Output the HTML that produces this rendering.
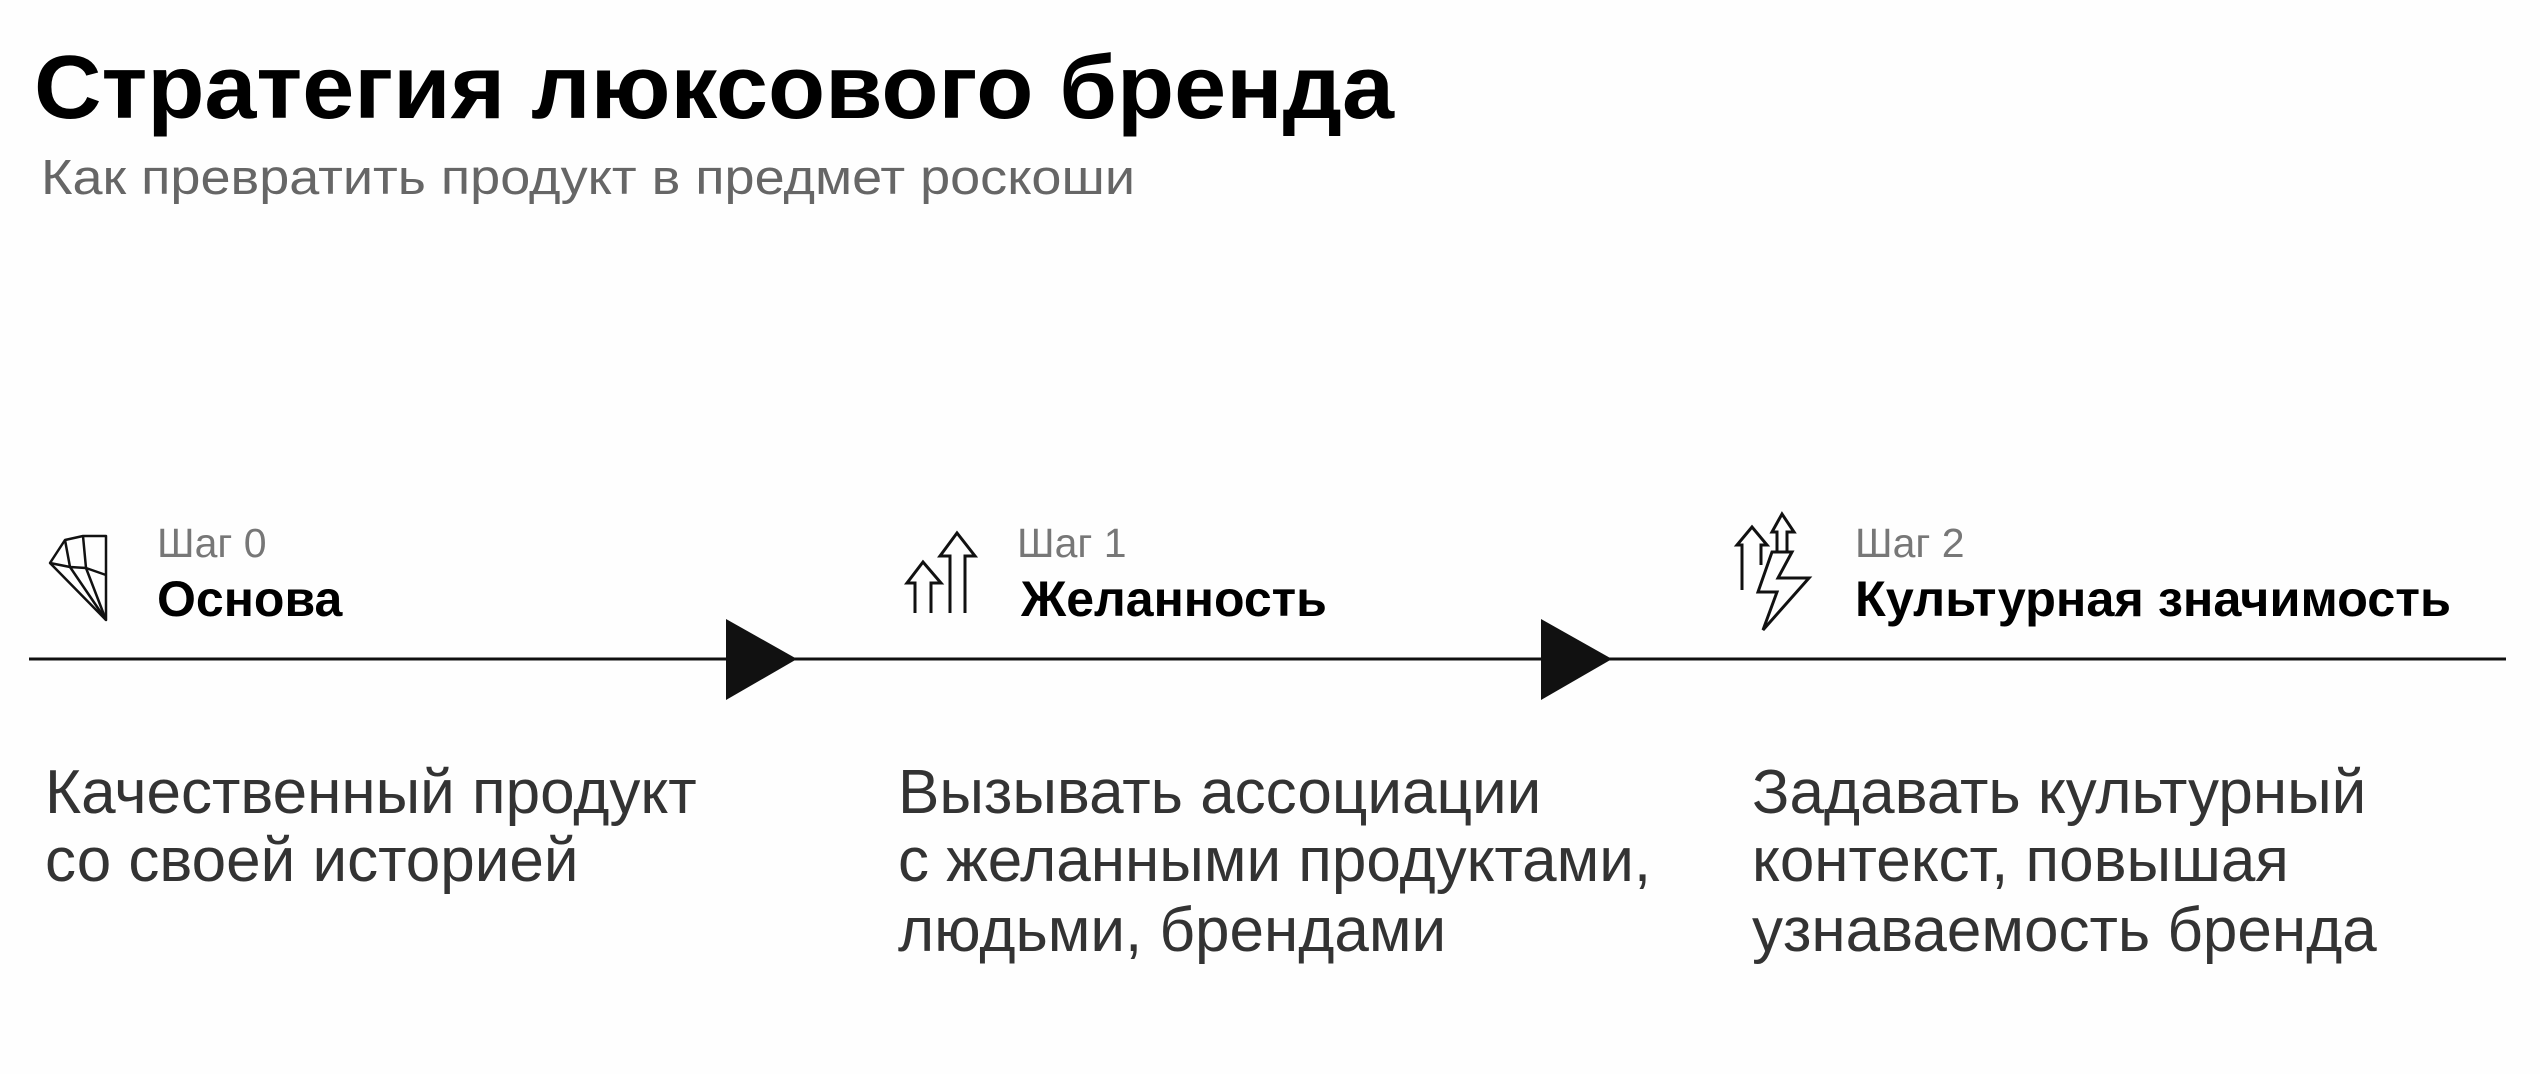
<!DOCTYPE html>
<html><head><meta charset="utf-8"><style>
html,body{margin:0;padding:0;background:#fff;}
svg{display:block;}
text{font-family:"Liberation Sans",sans-serif;}
</style></head><body>
<svg width="2540" height="1074" viewBox="0 0 2540 1074" xmlns="http://www.w3.org/2000/svg">
<rect width="2540" height="1074" fill="#fefefe"/>
<text x="34" y="118" font-size="90" font-weight="bold" fill="#000" textLength="1360" lengthAdjust="spacingAndGlyphs">Стратегия люксового бренда</text>
<text x="41" y="194" font-size="49" fill="#666" textLength="1094" lengthAdjust="spacingAndGlyphs">Как превратить продукт в предмет роскоши</text>

<line x1="29" y1="659" x2="2506" y2="659" stroke="#111" stroke-width="3"/>
<polygon points="726,619 797,659 726,700" fill="#111"/>
<polygon points="1541,619 1612,659 1541,700" fill="#111"/>

<!-- diamond icon -->
<g fill="none" stroke="#111" stroke-width="2.5" stroke-linejoin="round">
<polygon points="65,540 83,536 106,536 106,620 50,563"/>
<polyline points="65,540 70,567 106,620"/>
<polyline points="83,536 86,568 106,620"/>
<polyline points="50,563 70,567 86,568 106,575"/>
</g>
<!-- arrows icon -->
<g fill="none" stroke="#111" stroke-width="3" stroke-linejoin="miter">
<polyline points="915,613 915,583 907,583 923,562 941,583 931,583 931,613"/>
<polyline points="950,613 950,556 940,556 957,533 975,556 965,556 965,613"/>
</g>
<!-- lightning icon -->
<g fill="none" stroke="#111" stroke-width="3" stroke-linejoin="miter">
<polyline points="1742,590 1742,545 1737,545 1752,527 1767,545 1761,545 1761,565"/>
<polyline points="1777,552 1777,532 1772,532 1782,514 1794,532 1787,532 1787,552"/>
<polygon points="1772,552 1792,552 1778,578 1809,578 1763,630 1777,592 1758,592"/>
</g>

<text x="157" y="557" font-size="41" fill="#777">Шаг 0</text>
<text x="157" y="616" font-size="50" font-weight="bold" fill="#000">Основа</text>
<text x="1017" y="557" font-size="41" fill="#777">Шаг 1</text>
<text x="1021" y="616" font-size="50" font-weight="bold" fill="#000">Желанность</text>
<text x="1855" y="557" font-size="41" fill="#777">Шаг 2</text>
<text x="1855" y="616" font-size="50" font-weight="bold" fill="#000" textLength="596" lengthAdjust="spacingAndGlyphs">Культурная значимость</text>

<g font-size="62" fill="#333">
<text x="45" y="813">Качественный продукт</text>
<text x="45" y="881">со своей историей</text>
<text x="898" y="813">Вызывать ассоциации</text>
<text x="898" y="881">с желанными продуктами,</text>
<text x="898" y="951">людьми, брендами</text>
<text x="1752" y="813">Задавать культурный</text>
<text x="1752" y="881">контекст, повышая</text>
<text x="1752" y="951">узнаваемость бренда</text>
</g>
</svg>
</body></html>
